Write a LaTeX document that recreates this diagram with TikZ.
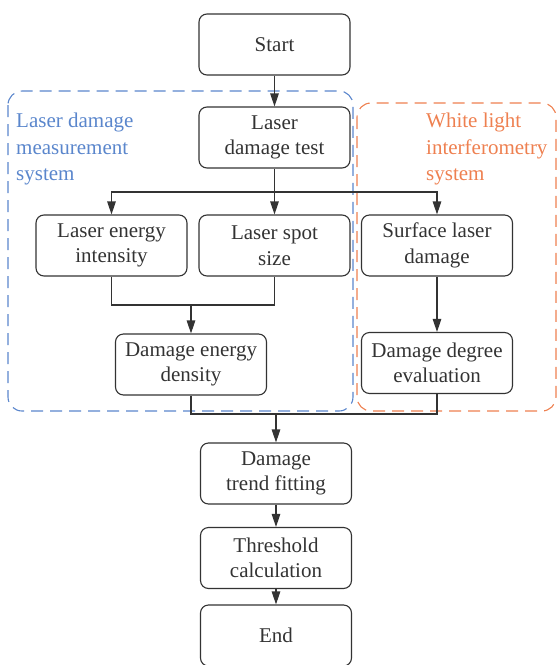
\documentclass[tikz,border=0pt]{standalone}
\usepackage{fontspec}
\setmainfont{Liberation Serif}
\usetikzlibrary{arrows.meta}
\definecolor{boxline}{HTML}{333333}
\definecolor{bluedash}{HTML}{5A86CC}
\definecolor{orangedash}{HTML}{EE8050}
\begin{document}
\begin{tikzpicture}[x=1pt,y=-1pt,
  procbox/.style={draw=boxline, line width=1.1pt, rounded corners=8pt, minimum width=151pt, minimum height=61pt, align=center, inner sep=2pt, font=\fontsize{21}{25.5}\selectfont, text=boxline},
  conn/.style={draw=boxline, line width=1.1pt},
  arr/.style={conn, -{Triangle[length=13pt,width=8.5pt]}},
  groupbox/.style={dash pattern=on 12pt off 7pt, line width=1.1pt, rounded corners=14pt},
  grouplabel/.style={align=left, anchor=north west, inner sep=0pt, font=\fontsize{21}{26.5}\selectfont}]
\useasboundingbox (0,0) rectangle (557,665);
% group frames
\draw[groupbox, draw=bluedash] (8,91) rectangle (353,411);
\draw[groupbox, draw=orangedash] (357,103) rectangle (556,411);
\node[grouplabel, text=bluedash] (glab1) at (16,113) {Laser damage\\measurement\\system};
\node[grouplabel, text=orangedash] (glab2) at (426,113) {White light\\interferometry\\system};
% nodes
\node[procbox] (start) at (274.5,44.5) {Start};
\node[procbox] (ldt) at (274.5,137.5) {Laser\\damage test};
\node[procbox] (lei) at (111.5,245.5) {Laser energy\\intensity};
\node[procbox] (lss) at (274.5,245.5) {Laser spot\\size};
\node[procbox] (sld) at (437,245.5) {Surface laser\\damage};
\node[procbox] (ded) at (191,364.5) {Damage energy\\density};
\node[procbox] (ddev) at (437,363) {Damage degree\\evaluation};
\node[procbox] (dtf) at (276,473.5) {Damage\\trend fitting};
\node[procbox] (thr) at (276,558) {Threshold\\calculation};
\node[procbox] (fin) at (276,635.5) {End};
% junctions
\coordinate (j1) at (274.5,192);
\coordinate (m1) at (191,305);
\coordinate (m2) at (276,414);
% connectors
\draw[arr] (start) -- (ldt);
\draw[arr] (ldt) -- (lss);
\draw[arr] (j1) -| (lei.north);
\draw[arr] (j1) -| (sld.north);
\draw[conn] (lei.south) |- (m1) -| (lss.south);
\draw[arr] (m1) -- (ded.north);
\draw[arr] (sld) -- (ddev);
\draw[conn] (ded.south) |- (m2) -| (ddev.south);
\draw[arr] (m2) -- (dtf.north);
\draw[arr] (dtf) -- (thr);
\draw[arr] (thr) -- (fin);
\end{tikzpicture}
\end{document}
